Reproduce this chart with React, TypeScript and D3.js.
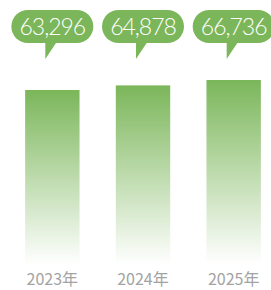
import { useRef, useEffect } from 'react';
import * as d3 from 'd3';

const years = ['2023年', '2024年', '2025年'];
const values = [63296, 64878, 66736];

export default function App() {
  const svgRef = useRef<SVGSVGElement>(null);

  useEffect(() => {
    const w = 271;
    const h = 290;
    const svg = d3.select(svgRef.current).attr('width', w).attr('height', h);
    svg.selectAll('*').remove();

    const xScale = d3.scaleBand().domain(years).range([7, 279]).paddingInner(0.4).paddingOuter(0.2);
    const yScale = d3.scaleLinear().domain([0, 66736]).range([274, 80]);

    // gradient for bars
    const grad = svg
      .append('defs')
      .append('linearGradient')
      .attr('id', 'barGrad')
      .attr('x1', 0)
      .attr('y1', 0)
      .attr('x2', 0)
      .attr('y2', 1);
    grad.append('stop').attr('offset', '0%').attr('stop-color', '#7bb65a').attr('stop-opacity', 1);
    grad.append('stop').attr('offset', '95%').attr('stop-color', '#7bb65a').attr('stop-opacity', 0);

    const data = years.map((y, i) => ({ year: y, value: values[i] }));

    svg
      .selectAll()
      .data(data)
      .enter()
      .append('rect')
      .attr('x', (d) => xScale(d.year)!)
      .attr('y', (d) => yScale(d.value))
      .attr('width', xScale.bandwidth())
      .attr('height', (d) => yScale(0) - yScale(d.value))
      .attr('fill', 'url(#barGrad)');

    // speech bubbles
    const bw = 82;
    const bTop = 10;
    const bh = 33;
    const bubbles = svg
      .selectAll()
      .data(data)
      .enter()
      .append('g')
      .attr('transform', (d) => `translate(${xScale(d.year)! + xScale.bandwidth() / 2}, 0)`);

    bubbles
      .append('rect')
      .attr('x', -bw / 2)
      .attr('y', bTop)
      .attr('width', bw)
      .attr('height', bh)
      .attr('rx', bh / 2)
      .attr('fill', '#7bb65a');

    bubbles
      .append('path')
      .attr('d', `M-7,${bTop + bh - 2} L-7,59 L5,${bTop + bh - 2} Z`)
      .attr('fill', '#7bb65a');

    bubbles
      .append('text')
      .attr('x', 0)
      .attr('y', 35)
      .attr('text-anchor', 'middle')
      .attr('fill', '#fff')
      .style('font-family', 'Lato, sans-serif')
      .style('font-weight', 300)
      .style('font-size', '23px')
      .style('letter-spacing', '-1px')
      .text((d) => d3.format(',')(d.value));

    // year labels
    svg
      .selectAll()
      .data(data)
      .enter()
      .append('text')
      .attr('x', (d) => xScale(d.year)! + xScale.bandwidth() / 2)
      .attr('y', 285)
      .attr('text-anchor', 'middle')
      .attr('fill', '#a3a3a3')
      .style('font-family', '"Noto Sans CJK SC", sans-serif')
      .style('font-size', '16px')
      .text((d) => d.year);
  }, []);

  return <svg ref={svgRef} style={{ position: 'absolute', left: 0, top: 0 }}></svg>;
}
